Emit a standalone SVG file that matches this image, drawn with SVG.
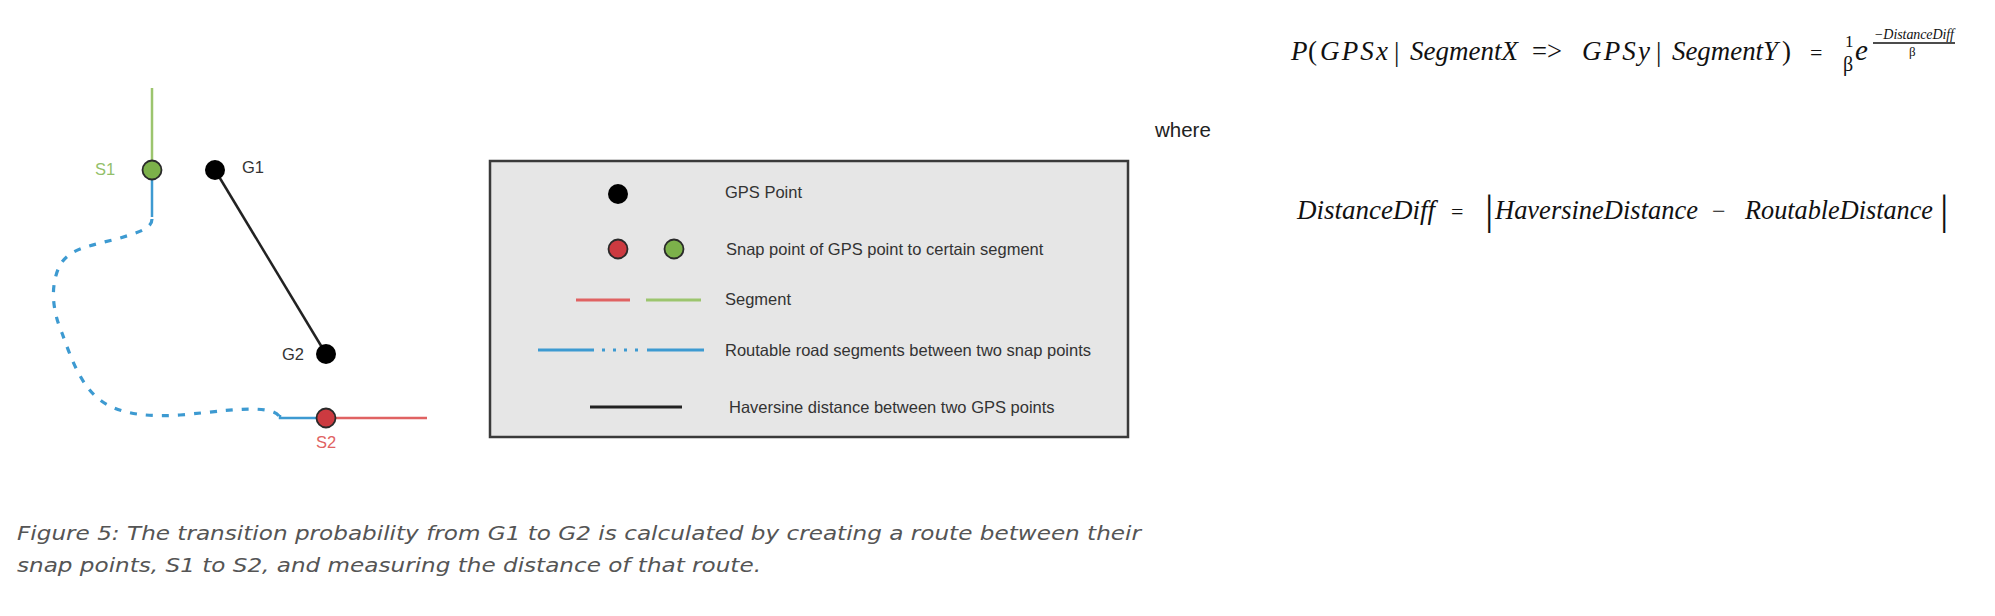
<svg xmlns="http://www.w3.org/2000/svg" width="1995" height="616" viewBox="0 0 1995 616">
<style>
.lbl{font-family:"Liberation Sans",Arial,sans-serif;font-size:16.5px;fill:#333}
.math{font-family:"Liberation Serif","Times New Roman",serif;font-style:italic;font-size:27px;fill:#111}
.up{font-family:"Liberation Serif","Times New Roman",serif;font-size:27px;fill:#111}
.cap{font-family:"DejaVu Sans",Verdana,sans-serif;font-style:italic;font-size:20px;fill:#555}
.green{stroke:#9cc56e;stroke-width:2.5;fill:none}
.red{stroke:#e06262;stroke-width:2.5;fill:none}
.blue{stroke:#3d9ad1;stroke-width:2.5;fill:none}
.dots{stroke:#3d9ad1;stroke-width:3.2;fill:none;stroke-dasharray:7 9}
.hav{stroke:#222;stroke-width:2.5;fill:none}
.gps{fill:#000}
.snapG{fill:#7cb14a;stroke:#2a2a2a;stroke-width:1.8}
.snapR{fill:#cc3a40;stroke:#2a2a2a;stroke-width:1.8}
</style>

<rect width="1995" height="616" fill="#ffffff"/>

<g id="connectors">
  <line id="segment-green" class="green" x1="152" y1="88" x2="152" y2="170"/>
  <line id="route-stub-s1" class="blue" x1="152" y1="170" x2="152" y2="217"/>
  <path id="route-dotted" class="dots" d="M152,219 C152,228 140,232 120,238 C90,246 70,248 60,265 C50,285 52,310 62,333 C70,355 80,385 100,400 C120,415 150,417 180,415 C215,412 245,407 265,410 C273,411 277,413 279,416"/>
  <polyline id="route-stub-s2" class="blue" points="280,415 280,418 326,418"/>
  <line id="segment-red" class="red" x1="326" y1="418" x2="427" y2="418"/>
  <line id="haversine" class="hav" x1="215" y1="170" x2="326" y2="354"/>
</g>

<g id="node-S1">
  <circle class="snapG" cx="152" cy="170" r="9.5"/>
  <text x="95" y="175" class="lbl" style="fill:#93c06a">S1</text>
</g>
<g id="node-G1">
  <circle class="gps" cx="215" cy="170" r="10"/>
  <text x="242" y="173" class="lbl">G1</text>
</g>
<g id="node-G2">
  <circle class="gps" cx="326" cy="354" r="10"/>
  <text x="282" y="360" class="lbl">G2</text>
</g>
<g id="node-S2">
  <circle class="snapR" cx="326" cy="418" r="9.5"/>
  <text x="326" y="448" class="lbl" text-anchor="middle" style="fill:#e06262">S2</text>
</g>

<g id="legend">
  <rect x="490" y="161" width="638" height="276" fill="#e6e6e6" stroke="#3a3a3a" stroke-width="2.5"/>
  <circle class="gps" cx="618" cy="194" r="10"/>
  <text x="725" y="198" class="lbl">GPS Point</text>
  <circle class="snapR" cx="618" cy="249" r="9.5"/>
  <circle class="snapG" cx="674" cy="249" r="9.5"/>
  <text x="726" y="255" class="lbl">Snap point of GPS point to certain segment</text>
  <line class="red" x1="576" y1="300" x2="630" y2="300" style="stroke-width:3"/>
  <line class="green" x1="646" y1="300" x2="701" y2="300" style="stroke-width:3"/>
  <text x="725" y="305" class="lbl">Segment</text>
  <line class="blue" x1="538" y1="350" x2="594" y2="350" style="stroke-width:3"/>
  <line class="dots" x1="602" y1="350" x2="640" y2="350" style="stroke-dasharray:3 8"/>
  <line class="blue" x1="647" y1="350" x2="704" y2="350" style="stroke-width:3"/>
  <text x="725" y="356" class="lbl">Routable road segments between two snap points</text>
  <line class="hav" x1="590" y1="407" x2="682" y2="407" style="stroke-width:3"/>
  <text x="729" y="413" class="lbl">Haversine distance between two GPS points</text>
</g>

<g id="formula-transition">
  <text x="1291" y="60" class="math">P</text>
  <text x="1308" y="60" class="up">(</text>
  <text x="1320" y="60" class="math" textLength="68" lengthAdjust="spacing">GPSx</text>
  <text x="1394" y="61" class="up">|</text>
  <text x="1410" y="60" class="math" textLength="108" lengthAdjust="spacingAndGlyphs">SegmentX</text>
  <text x="1532" y="60" class="up" textLength="30" lengthAdjust="spacingAndGlyphs">=&gt;</text>
  <text x="1582" y="60" class="math" textLength="68" lengthAdjust="spacing">GPSy</text>
  <text x="1656" y="61" class="up">|</text>
  <text x="1672" y="60" class="math" textLength="106" lengthAdjust="spacingAndGlyphs">SegmentY</text>
  <text x="1782" y="60" class="up">)</text>
  <text x="1810" y="60" class="up" style="font-size:22px">=</text>
  <text x="1845" y="47" class="up" style="font-size:17px">1</text>
  <text x="1843" y="71" class="up" style="font-size:20px">β</text>
  <text x="1855" y="60" class="math" style="font-size:29px">e</text>
  <line x1="1873" y1="43" x2="1955" y2="43" stroke="#111" stroke-width="1.5"/>
  <text x="1874" y="39" class="math" style="font-size:14px" textLength="80" lengthAdjust="spacing">−DistanceDiff</text>
  <text x="1909" y="56" class="up" style="font-size:13px">β</text>
</g>

<text x="1155" y="137" style="font-family:'Liberation Sans',Arial,sans-serif;font-size:20.5px;fill:#222">where</text>

<g id="formula-distance">
  <text x="1297" y="219" class="math" textLength="138" lengthAdjust="spacingAndGlyphs">DistanceDiff</text>
  <text x="1451" y="219" class="up" style="font-size:22px">=</text>
  <text x="1485" y="224" class="up" style="font-size:42px">|</text>
  <text x="1495" y="219" class="math" textLength="203" lengthAdjust="spacingAndGlyphs">HaversineDistance</text>
  <text x="1712" y="219" class="up" style="font-size:24px">−</text>
  <text x="1745" y="219" class="math" textLength="188" lengthAdjust="spacingAndGlyphs">RoutableDistance</text>
  <text x="1940" y="224" class="up" style="font-size:42px">|</text>
</g>

<g id="caption">
  <text x="17" y="540" class="cap" textLength="1124" lengthAdjust="spacingAndGlyphs">Figure 5: The transition probability from G1 to G2 is calculated by creating a route between their</text>
  <text x="17" y="572" class="cap" textLength="744" lengthAdjust="spacingAndGlyphs">snap points, S1 to S2, and measuring the distance of that route.</text>
</g>
</svg>
